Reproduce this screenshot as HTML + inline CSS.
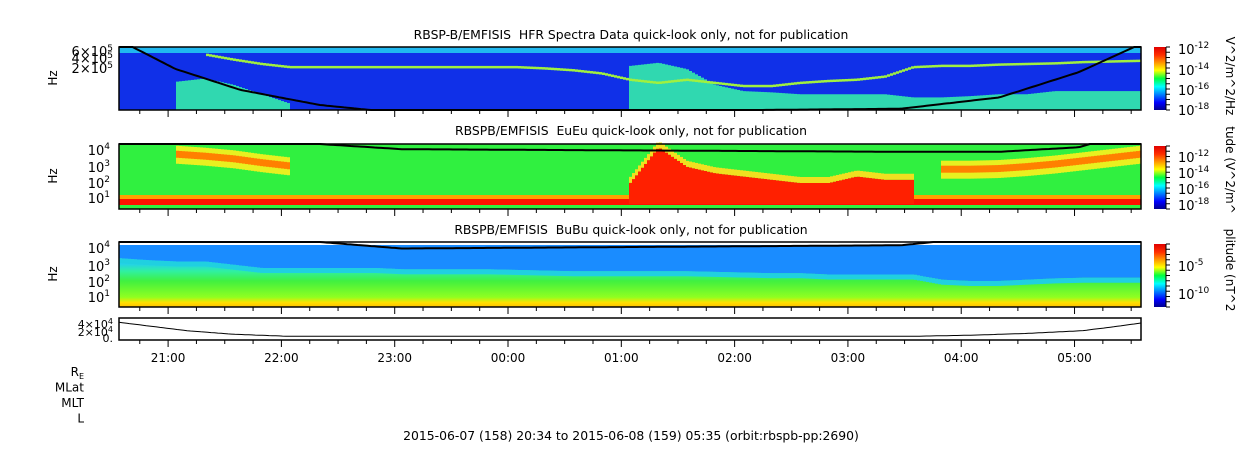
<!DOCTYPE html>
<html><head><meta charset="utf-8"><style>
body{margin:0;background:#fff;}
svg{display:block;font-family:"DejaVu Sans","Liberation Sans",sans-serif;}
</style></head><body>
<svg id="c" width="1250" height="449" viewBox="0 0 1250 449" xmlns="http://www.w3.org/2000/svg">
<defs>
<linearGradient id="jet" x1="0" y1="1" x2="0" y2="0">
<stop offset="0" stop-color="#00008f"/><stop offset="0.12" stop-color="#0000ff"/><stop offset="0.37" stop-color="#00ffff"/><stop offset="0.5" stop-color="#00ff40"/><stop offset="0.63" stop-color="#ffff00"/><stop offset="0.87" stop-color="#ff3000"/><stop offset="1" stop-color="#e00000"/>
</linearGradient>
<linearGradient id="p3g" x1="0" y1="0" x2="0" y2="1">
<stop offset="0" stop-color="#1a8cff"/><stop offset="0.3" stop-color="#20c8ff"/><stop offset="0.45" stop-color="#30f0a0"/><stop offset="0.6" stop-color="#40f040"/><stop offset="0.85" stop-color="#90ff20"/><stop offset="0.93" stop-color="#ffe000"/><stop offset="1" stop-color="#ffc000"/>
</linearGradient>
</defs>
<g id="marks"></g>
<g id="axes" fill="none" stroke="#000"></g>
<g id="labels" font-size="12" fill="#000"></g>
</svg>
<script>
const times=[0,0.25,0.5,0.75,1,1.25,1.5,1.75,2,2.25,2.5,2.75,3,3.25,3.5,3.75,4,4.25,4.5,4.75,5,5.25,5.5,5.75,6,6.25,6.5,6.75,7,7.25,7.5,7.75,8,8.25,8.5,8.75,9];
const plasmaLine=[null,null,null,0.1,0.18,0.25,0.3,0.3,0.3,0.3,0.3,0.3,0.3,0.3,0.3,0.32,0.35,0.4,0.5,0.55,0.5,0.55,0.6,0.6,0.55,0.52,0.5,0.45,0.3,0.28,0.28,0.26,0.25,0.24,0.22,0.21,0.2];
const lowEmission=[null,null,0.55,0.5,0.6,0.75,0.9,null,null,null,null,null,null,null,null,null,null,null,0.3,0.25,0.35,0.6,0.7,0.72,0.75,0.75,0.75,0.75,0.8,0.8,0.78,0.75,0.75,0.7,0.7,0.7,0.7];
const burstTop=[null,null,null,null,null,null,null,null,null,null,null,null,null,null,null,null,null,null,0.6,0.05,0.35,0.45,0.5,0.55,0.6,0.6,0.5,0.55,0.55,null,null,null,null,null,null,null,null];
const bandFrac=[null,null,0.15,0.18,0.22,0.28,0.33,null,null,null,null,null,null,null,null,null,null,null,null,null,null,null,null,null,null,null,null,null,null,0.38,0.38,0.37,0.34,0.3,0.25,0.2,0.15];
const blueEdge=[0.25,0.28,0.3,0.3,0.35,0.4,0.4,0.4,0.4,0.4,0.42,0.42,0.42,0.42,0.43,0.44,0.45,0.45,0.45,0.45,0.45,0.46,0.47,0.48,0.48,0.5,0.5,0.5,0.5,0.58,0.6,0.6,0.58,0.56,0.55,0.55,0.55];
const orbitT=[0,0.12,0.5,1.07,1.77,2.5,6.9,7.77,8.47,8.96,9.1];
const orbitP1=[-0.3,0,0.35,0.68,0.92,1.05,0.98,0.8,0.4,0,-0.1];
const orbitP2=[-0.5,-0.5,-0.4,-0.2,0,0.08,0.12,0.12,0.05,-0.2,-0.5];
const orbitP3=[-0.5,-0.5,-0.4,-0.2,0,0.1,0.05,-0.1,-0.5,-0.8,-1];
const altT=[0,0.3,0.6,1,1.5,7,7.5,8,8.5,8.8,9.02];
const altV=[4.2,3.0,1.8,0.8,0.2,0.2,0.5,1,1.8,3,4];
const hourLabels=["21:00","22:00","23:00","00:00","01:00","02:00","03:00","04:00","05:00"];
const X0=119,X1=1141,T1=9.02;
const x=t=>X0+(X1-X0)*t/T1;
function interp(ts,vs,t){if(t<=ts[0])return vs[0];for(let i=1;i<ts.length;i++){if(t<=ts[i]){const a=vs[i-1],b=vs[i];if(a===null||b===null)return null;const f=(t-ts[i-1])/(ts[i]-ts[i-1]);return a+f*(b-a);}}return vs[vs.length-1];}
const NS="http://www.w3.org/2000/svg";
const marks=document.getElementById('marks'),axes=document.getElementById('axes'),labels=document.getElementById('labels');
function el(tag,attrs,parent){const e=document.createElementNS(NS,tag);for(const k in attrs)e.setAttribute(k,attrs[k]);parent.appendChild(e);return e;}
const P=[{y:47,h:63},{y:144,h:65},{y:242,h:65},{y:318,h:22}];
let r;
r=el('rect',{x:X0,y:47,width:X1-X0,height:63,fill:'#1030e8'},marks);


r=el('rect',{x:X0,y:47,width:X1-X0,height:6,fill:'#20b8f0'},marks);


r=el('rect',{x:X0,y:144,width:X1-X0,height:65,fill:'#30f040'},marks);


r=el('rect',{x:X0,y:195,width:X1-X0,height:4,fill:'#ffa000'},marks);


r=el('rect',{x:X0,y:199,width:X1-X0,height:6,fill:'#ff1000'},marks);


r=el('rect',{x:X0,y:242,width:X1-X0,height:65,fill:'url(#p3g)'},marks);


const W=3;
for(let px=X0;px<X1;px+=W){
 const t=(px-X0)/(X1-X0)*T1;const w=Math.min(W,X1-px);
 const le=interp(times,lowEmission,t);
 if(le!==null){r=el('rect',{x:px,y:47+63*le,width:w,height:63*(1-le),fill:'#30d8b0'},marks);
 
 }
 const pl=interp(times,plasmaLine,t);
 if(pl!==null){r=el('rect',{x:px,y:47+63*pl,width:w,height:2.5,fill:'#a0f040'},marks);
 
 }
 const bf=interp(times,bandFrac,t);
 if(bf!==null){r=el('rect',{x:px,y:144+65*bf-8,width:w,height:18,fill:'#e8f020'},marks);
 
 
 r=el('rect',{x:px,y:144+65*bf-3,width:w,height:7,fill:'#ff8000'},marks);
 
 }
 const bt=interp(times,burstTop,t);
 if(bt!==null){r=el('rect',{x:px,y:144+65*bt,width:w,height:65*(1-bt)-5,fill:'#ff2000'},marks);
 
 
 r=el('rect',{x:px,y:144+65*bt-6,width:w,height:6,fill:'#f0e020'},marks);
 
 }
 const be=interp(times,blueEdge,t);
 r=el('rect',{x:px,y:245,width:w,height:65*be-3,fill:'#1a8cff'},marks);
 
 
 r=el('rect',{x:px,y:242+65*be,width:w,height:5,fill:'#20d0e0'},marks);
 
 
}
r=el('rect',{x:X0,y:242,width:X1-X0,height:3,fill:'#fff'},marks);


function curve(vs,p,name){let d='';for(let i=0;i<=300;i++){const t=T1*i/300;let f=interp(orbitT,vs,t);f=Math.max(0,Math.min(1,f));d+=(i?'L':'M')+x(t).toFixed(1)+','+(p.y+p.h*f).toFixed(1);}
 const e=el('path',{d:d,stroke:'#000','stroke-width':2,fill:'none'},marks);
 
 }
curve(orbitP1,P[0],'hfr-orbit-curve');curve(orbitP2,P[1],'eueu-orbit-curve');curve(orbitP3,P[2],'bubu-orbit-curve');
{let d='';for(let i=0;i<=300;i++){const t=T1*i/300;const v=interp(altT,altV,t);d+=(i?'L':'M')+x(t).toFixed(1)+','+(337-v*3.5).toFixed(1);}
 const e=el('path',{d:d,stroke:'#000','stroke-width':1,fill:'none'},marks);
 
 }
P.forEach((p,i)=>{const f=el('rect',{x:X0,y:p.y,width:X1-X0,height:p.h,'stroke-width':1.5},axes);
 
 
 for(let k=0;k<=36;k++){const t=26/60+k*0.25-0.25;if(t<0||t>T1)continue;const xx=x(t);const maj=(k%4===1);
  const L=maj?7:4;el('line',{x1:xx,y1:p.y+p.h,x2:xx,y2:p.y+p.h+L},axes);}
});
function txt(s,xx,yy,anchor,name,size){const e=el('text',{x:xx,y:yy,'text-anchor':anchor||'start','font-size':size||12},labels);e.innerHTML=s;
 
 return e;}
txt('RBSP-B/EMFISIS&#160; HFR Spectra Data quick-look only, not for publication',631,39,'middle','hfr-title',12.4);
txt('RBSPB/EMFISIS&#160; EuEu quick-look only, not for publication',631,135,'middle','eueu-title',12.4);
txt('RBSPB/EMFISIS&#160; BuBu quick-look only, not for publication',631,234,'middle','bubu-title',12.4);
hourLabels.forEach((h,i)=>txt(h,x(26/60+i),362,'middle','x-tick-label-'+h));
['R<tspan font-size="8" dy="3">E</tspan>','MLat','MLT','L'].forEach((s,i)=>txt(s,84,376+i*15.5,'end','ephemeris-label-'+i));
txt('2015-06-07 (158) 20:34 to 2015-06-08 (159) 05:35 (orbit:rbspb-pp:2690)',631,440,'middle','time-range-footer',12.4);
[['6×10<tspan font-size="9" dy="-5">5</tspan>',52],['4×10<tspan font-size="9" dy="-5">5</tspan>',59],['2×10<tspan font-size="9" dy="-5">5</tspan>',69]].forEach((a,i)=>txt(a[0],113,a[1]+4,'end','hfr-y-tick-'+i,13));
[[151,'4'],[168,'3'],[184,'2'],[199,'1']].forEach((a,i)=>txt('10<tspan font-size="9" dy="-6">'+a[1]+'</tspan>',110,a[0]+4,'end','eueu-y-tick-'+i,13));
[[249,'4'],[267,'3'],[283,'2'],[298,'1']].forEach((a,i)=>txt('10<tspan font-size="9" dy="-6">'+a[1]+'</tspan>',110,a[0]+4,'end','bubu-y-tick-'+i,13));
txt('4×10<tspan font-size="8" dy="-4">4</tspan>',113,328,'end','alt-y-tick-0',11);
txt('2×10<tspan font-size="8" dy="-4">4</tspan>',113,336,'end','alt-y-tick-1',11);
txt('0.',113,342,'end','alt-y-tick-2',11);
[[57,78],[57,176],[57,274]].forEach((a,i)=>{const e=txt('Hz',a[0],a[1],'middle','y-axis-title-'+i);e.setAttribute('transform','rotate(-90 '+a[0]+' '+a[1]+')');});
const CB=[{y:47,h:63,lab:[['-12',50],['-14',71],['-16',91],['-18',111]],t:'V^2/m^2/Hz',ty:76},{y:146,h:63,lab:[['-12',158],['-14',174],['-16',190],['-18',206]],t:'tude (V^2/m^',ty:170},{y:244,h:63,lab:[['-5',267],['-10',295]],t:'plitude (nT^2',ty:270}];
CB.forEach((c,i)=>{const e=el('rect',{x:1154,y:c.y,width:12,height:c.h,fill:'url(#jet)'},marks);
 
 
 el('line',{x1:1166,y1:c.y,x2:1166,y2:c.y+c.h},axes);
 for(let k=0;k<=12;k++){const yy=c.y+c.h*k/12;el('line',{x1:1166,y1:yy,x2:1170,y2:yy},axes);}
 c.lab.forEach((l,j)=>txt('10<tspan font-size="9" dy="-6">'+l[0]+'</tspan>',1178,l[1]+4,'start','colorbar-tick-'+(i+1)+'-'+j,13));
 const tt=txt(c.t,1226,c.ty,'middle','colorbar-title-'+(i+1),12);tt.setAttribute('transform','rotate(90 1226 '+c.ty+')');
});
</script>
</body></html>
